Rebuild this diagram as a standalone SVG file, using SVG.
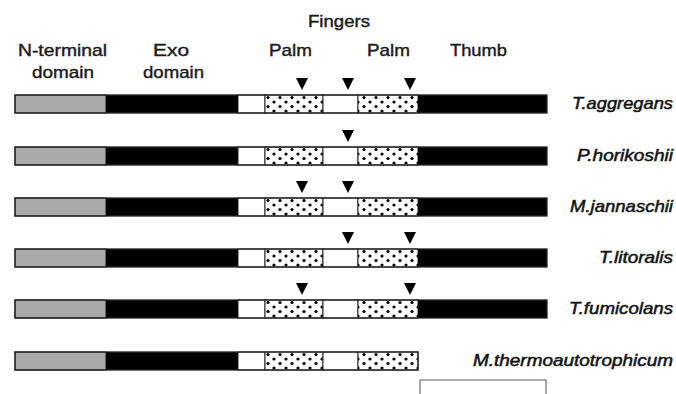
<svg xmlns="http://www.w3.org/2000/svg" width="676" height="394" viewBox="0 0 676 394">
  <style>
    .hdr { font-family: "Liberation Sans", Arial, sans-serif; font-size: 17px; fill: #1a1a1a; stroke: #1a1a1a; stroke-width: 0.4; text-anchor: middle; }
    .sp { font-family: "Liberation Sans", Arial, sans-serif; font-size: 16.5px; font-style: italic; fill: #111; stroke: #111; stroke-width: 0.5; text-anchor: end; }
    .seg { stroke: #222; stroke-width: 1; }
    .gray { fill: #a9a9a9; }
    .blk { fill: #000; }
    .wht { fill: #fff; }
    .dot { fill: url(#dots); }
    .frame { fill: none; stroke: #222; stroke-width: 1.3; }
  </style>
  <defs>
    <pattern id="dots" patternUnits="userSpaceOnUse" x="265" y="0" width="12" height="9">
      <rect width="12" height="9" fill="#fff"/>
      <circle cx="3" cy="2.5" r="1.6" fill="#000"/>
      <circle cx="9" cy="7" r="1.6" fill="#000"/>
    </pattern>
    <polygon id="mark" points="-6,0 6,0 0,12" fill="#000"/>
    <!-- shared segments of a polymerase bar, local coords, height 18 -->
    <g id="segs">
      <rect class="gray seg" x="15" y="0" width="91" height="18"/>
      <rect class="blk" x="106" y="0" width="132" height="18"/>
      <rect class="wht seg" x="238" y="0" width="27" height="18"/>
      <rect class="dot seg" x="265" y="0" width="58" height="18"/>
      <rect class="wht seg" x="323" y="0" width="35" height="18"/>
      <rect class="dot seg" x="358" y="0" width="60" height="18"/>
    </g>
  </defs>

  <!-- domain headings -->
  <g id="headings">
    <text class="hdr" x="339" y="27" textLength="62" lengthAdjust="spacingAndGlyphs">Fingers</text>
    <text class="hdr" x="62.5" y="56" textLength="89" lengthAdjust="spacingAndGlyphs">N-terminal</text>
    <text class="hdr" x="63" y="78" textLength="62" lengthAdjust="spacingAndGlyphs">domain</text>
    <text class="hdr" x="171" y="56" textLength="36" lengthAdjust="spacingAndGlyphs">Exo</text>
    <text class="hdr" x="173.5" y="78" textLength="61" lengthAdjust="spacingAndGlyphs">domain</text>
    <text class="hdr" x="290.5" y="56" textLength="43" lengthAdjust="spacingAndGlyphs">Palm</text>
    <text class="hdr" x="388.5" y="56" textLength="43" lengthAdjust="spacingAndGlyphs">Palm</text>
    <text class="hdr" x="478.5" y="56" textLength="57" lengthAdjust="spacingAndGlyphs">Thumb</text>
  </g>

  <g id="row-taggregans" transform="translate(0,95)">
    <use href="#segs"/>
    <rect class="blk" x="418" y="0" width="129" height="18"/>
    <rect class="frame" x="15" y="0" width="532" height="18"/>
    <use href="#mark" x="302" y="-17"/>
    <use href="#mark" x="348" y="-17"/>
    <use href="#mark" x="410" y="-17"/>
    <text class="sp" x="673" y="14" textLength="101" lengthAdjust="spacingAndGlyphs">T.aggregans</text>
  </g>

  <g id="row-phorikoshii" transform="translate(0,147)">
    <use href="#segs"/>
    <rect class="blk" x="418" y="0" width="129" height="18"/>
    <rect class="frame" x="15" y="0" width="532" height="18"/>
    <use href="#mark" x="348" y="-17"/>
    <text class="sp" x="673" y="14" textLength="96" lengthAdjust="spacingAndGlyphs">P.horikoshii</text>
  </g>

  <g id="row-mjannaschii" transform="translate(0,198)">
    <use href="#segs"/>
    <rect class="blk" x="418" y="0" width="129" height="18"/>
    <rect class="frame" x="15" y="0" width="532" height="18"/>
    <use href="#mark" x="302" y="-17"/>
    <use href="#mark" x="348" y="-17"/>
    <text class="sp" x="673" y="14" textLength="103" lengthAdjust="spacingAndGlyphs">M.jannaschii</text>
  </g>

  <g id="row-tlitoralis" transform="translate(0,249)">
    <use href="#segs"/>
    <rect class="blk" x="418" y="0" width="129" height="18"/>
    <rect class="frame" x="15" y="0" width="532" height="18"/>
    <use href="#mark" x="348" y="-17"/>
    <use href="#mark" x="410" y="-17"/>
    <text class="sp" x="673" y="14" textLength="74" lengthAdjust="spacingAndGlyphs">T.litoralis</text>
  </g>

  <g id="row-tfumicolans" transform="translate(0,300)">
    <use href="#segs"/>
    <rect class="blk" x="418" y="0" width="129" height="18"/>
    <rect class="frame" x="15" y="0" width="532" height="18"/>
    <use href="#mark" x="302" y="-17"/>
    <use href="#mark" x="410" y="-17"/>
    <text class="sp" x="673" y="14" textLength="104" lengthAdjust="spacingAndGlyphs">T.fumicolans</text>
  </g>

  <g id="row-mthermoautotrophicum" transform="translate(0,352)">
    <use href="#segs"/>
    <rect class="frame" x="15" y="0" width="403" height="18"/>
    <text class="sp" x="673" y="14" textLength="200" lengthAdjust="spacingAndGlyphs">M.thermoautotrophicum</text>
  </g>

  <!-- open box below the last row, running off the bottom edge -->
  <g id="lower-box">
    <rect x="420" y="380" width="126" height="30" fill="none" stroke="#555" stroke-width="1"/>
  </g>
</svg>
